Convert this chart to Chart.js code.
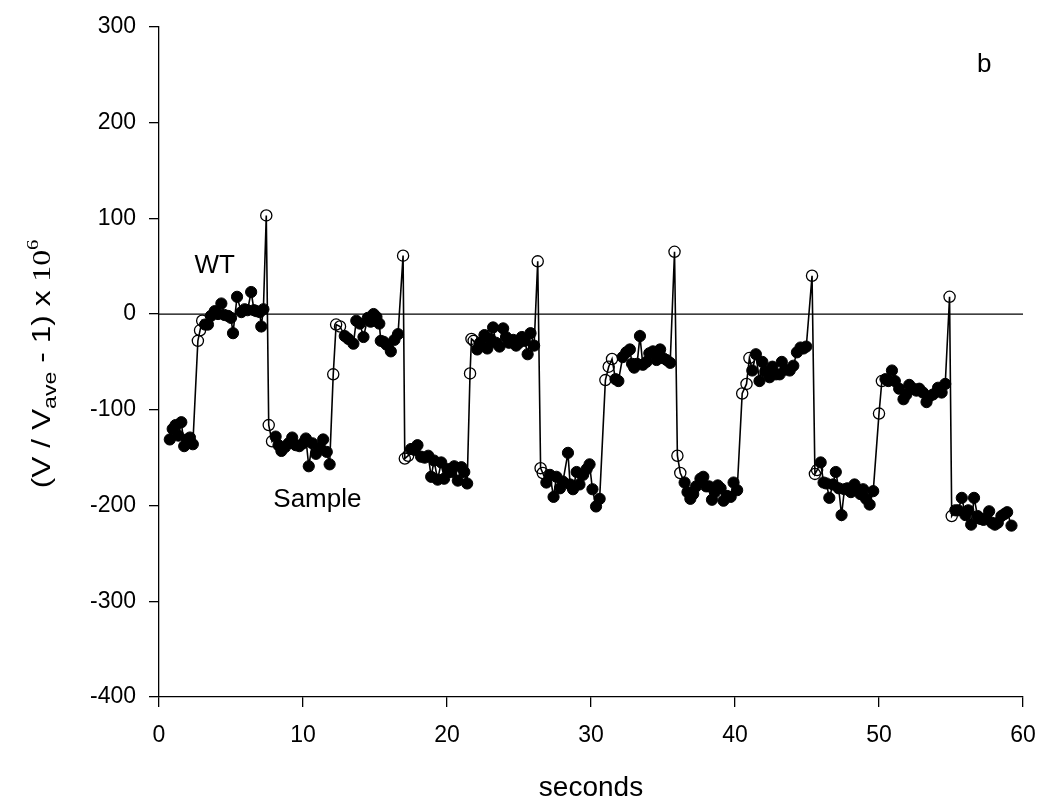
<!DOCTYPE html>
<html>
<head>
<meta charset="utf-8">
<script src="https://cdn.jsdelivr.net/npm/chart.js@4/dist/chart.umd.min.js"></script>
<style>
  body { margin: 0; background: #fff; }
  canvas { display: block; }
</style>
</head>
<body>
<canvas id="chart" width="1039" height="805" style="width:1039px;height:805px"></canvas>
<script>
// filled circles: steady readings (WT and sample plateaus)
const filledSeconds = [
  0.75, 0.95, 1.15, 1.35, 1.55, 1.75, 1.95, 2.15, 2.35,
  3.2, 3.4, 3.6, 3.87, 4.1, 4.33, 4.55, 4.8, 5.0, 5.14, 5.42, 5.72, 5.95, 6.15, 6.4, 6.6, 6.76, 7.0, 7.1, 7.25,
  8.1, 8.3, 8.5, 8.75, 9.0, 9.25, 9.5, 9.75, 10.0, 10.2, 10.4, 10.65, 10.9, 11.15, 11.4, 11.65, 11.85,
  12.9, 13.15, 13.5, 13.7, 13.95, 14.2, 14.5, 14.7, 14.9, 15.1, 15.3, 15.4, 15.6, 15.8, 16.1, 16.35, 16.6,
  17.5, 17.75, 17.95, 18.2, 18.45, 18.7, 18.9, 19.1, 19.35, 19.6, 19.8, 20.05, 20.3, 20.5, 20.75, 21.0, 21.2, 21.4,
  22.1, 22.3, 22.6, 22.8, 23.0, 23.2, 23.4, 23.65, 23.9, 24.1, 24.3, 24.6, 24.8, 25.0, 25.2, 25.4, 25.6, 25.8, 26.05,
  26.9, 27.15, 27.4, 27.6, 27.85, 28.05, 28.4, 28.55, 28.75, 29.0, 29.2, 29.45, 29.7, 29.9, 30.1, 30.35, 30.6,
  31.7, 31.9, 32.2, 32.45, 32.7, 32.85, 33.0, 33.2, 33.4, 33.6, 33.85, 34.05, 34.3, 34.55, 34.8, 35.0, 35.25, 35.5,
  36.5, 36.7, 36.9, 37.1, 37.3, 37.6, 37.8, 38.0, 38.2, 38.4, 38.6, 38.8, 39.0, 39.2, 39.45, 39.7, 39.9, 40.15,
  41.2, 41.45, 41.7, 41.9, 42.1, 42.4, 42.6, 42.85, 43.1, 43.25, 43.5, 43.8, 44.05, 44.3, 44.55, 44.75, 44.95,
  45.95, 46.15, 46.35, 46.55, 46.8, 47.0, 47.2, 47.4, 47.6, 47.8, 48.05, 48.3, 48.5, 48.7, 48.9, 49.1, 49.35, 49.6,
  50.45, 50.65, 50.9, 51.1, 51.4, 51.7, 51.9, 52.1, 52.4, 52.6, 52.8, 53.05, 53.3, 53.5, 53.75, 54.1, 54.35, 54.6,
  55.3, 55.5, 55.75, 56.0, 56.2, 56.4, 56.6, 56.85, 57.05, 57.25, 57.45, 57.65, 57.85, 58.05, 58.25, 58.5, 58.7, 58.9, 59.2
];
const filledValues = [
  -131, -120, -116, -127, -113, -138, -131, -129, -136,
  -11, -11, -2, 3, 0, 11, -1, -2, -4, -20, 18, 2, 5, 4, 23, 4, 3, 2, -13, 5,
  -128, -137, -143, -139, -135, -129, -137, -138, -135, -130, -159, -135, -146, -140, -131, -144, -157,
  -23, -26, -31, -7, -10, -24, -4, -8, 0, -3, -10, -28, -29, -32, -39, -27, -21,
  -141, -142, -137, -149, -150, -148, -170, -153, -173, -155, -172, -162, -165, -159, -174, -160, -165, -177,
  -37, -30, -22, -36, -26, -14, -30, -34, -15, -24, -30, -27, -33, -30, -24, -28, -42, -20, -33,
  -176, -168, -191, -170, -182, -175, -145, -178, -183, -165, -178, -168, -162, -157, -183, -201, -193,
  -68, -70, -45, -40, -37, -52, -56, -52, -23, -53, -50, -41, -39, -48, -37, -46, -48, -51,
  -176, -186, -193, -188, -180, -172, -170, -180, -180, -194, -186, -179, -182, -195, -190, -191, -176, -184,
  -59, -42, -70, -50, -60, -66, -55, -63, -63, -50, -58, -59, -54, -40, -35, -36, -34,
  -155, -176, -177, -192, -178, -165, -182, -210, -183, -182, -186, -178, -183, -188, -183, -193, -199, -185,
  -68, -70, -59, -70, -78, -89, -84, -74, -78, -80, -78, -82, -92, -86, -84, -77, -82, -73,
  -205, -205, -192, -210, -205, -220, -192, -211, -214, -215, -213, -206, -218, -220, -218, -211, -209, -207, -221
];

// open circles: switching transients and spikes
const openSeconds = [
  2.7, 2.85, 3.0, 7.45, 7.62, 7.85,
  12.1, 12.3, 12.57, 16.95, 17.07, 17.3,
  21.6, 21.7, 21.85, 26.3, 26.5, 26.65,
  31.0, 31.23, 31.46, 35.8, 36.0, 36.2,
  40.5, 40.8, 41.0, 45.35, 45.55, 45.7,
  50.0, 50.2, 54.9, 55.05
];
const openValues = [
  -28, -17, -7, 103, -116, -133,
  -63, -11, -13, 61, -151, -148,
  -62, -26, -28, 55, -161, -166,
  -69, -55, -47, 65, -148, -166,
  -83, -73, -46, 40, -167, -163,
  -104, -70, 18, -211
];

const xTicks = [0, 10, 20, 30, 40, 50, 60];
const yTicks = [-400, -300, -200, -100, 0, 100, 200, 300];
const zeroLine = [0, 60];

// text labels placed in data units
const noteText = ['WT', 'Sample', 'b'];
const noteSeconds = [3.87, 11.0, 57.3];
const noteValues = [50, -194, 260];

const fontFamily = "'Liberation Sans', Arial, Helvetica, sans-serif";

// the line joins every reading in time order
const filledPts = filledSeconds.map((t, i) => ({ x: t, y: filledValues[i] }));
const openPts = openSeconds.map((t, i) => ({ x: t, y: openValues[i] }));
const tracePts = filledPts.concat(openPts).sort((a, b) => a.x - b.x);

const textPlugin = {
  id: 'texts',
  afterDraw(chart) {
    const ctx = chart.ctx;
    const xs = chart.scales.x, ys = chart.scales.y;
    ctx.save();
    ctx.fillStyle = '#000';
    ctx.textAlign = 'center';
    ctx.textBaseline = 'middle';
    ctx.font = '26px ' + fontFamily;
    noteText.forEach((txt, i) => {
      ctx.fillText(txt, xs.getPixelForValue(noteSeconds[i]), ys.getPixelForValue(noteValues[i]));
    });

    // y axis title with subscript and superscript, stretched along its length like the original
    const parts = [
      { t: '(V / V', f: '26px ' + fontFamily, dy: 0 },
      { t: 'ave', f: '19px ' + fontFamily, dy: 6 },
      { t: ' - 1) x ', f: '26px ' + fontFamily, dy: 0 },
      { t: '10', f: "26px 'Liberation Serif', 'Times New Roman', serif", dy: 0 },
      { t: '6', f: "17px 'Liberation Serif', 'Times New Roman', serif", dy: -12 }
    ];
    let total = 0;
    parts.forEach(p => { ctx.font = p.f; p.w = ctx.measureText(p.t).width; total += p.w; });
    ctx.translate(40, (ys.top + ys.bottom) / 2 + 2);
    ctx.rotate(-Math.PI / 2);
    ctx.scale(1.22, 1);
    ctx.textAlign = 'left';
    ctx.textBaseline = 'alphabetic';
    let x = -total / 2;
    parts.forEach(p => {
      ctx.font = p.f;
      ctx.fillText(p.t, x, 10 + p.dy);
      x += p.w;
    });
    ctx.restore();
  }
};

new Chart(document.getElementById('chart').getContext('2d'), {
  type: 'scatter',
  data: {
    datasets: [
      {
        label: 'zero',
        data: zeroLine.map(t => ({ x: t, y: 0 })),
        showLine: true,
        borderColor: '#000',
        borderWidth: 1.3,
        pointRadius: 0
      },
      {
        label: 'trace',
        data: tracePts,
        showLine: true,
        borderColor: '#000',
        borderWidth: 1.6,
        pointRadius: 0
      },
      {
        label: 'filled',
        data: filledPts,
        pointRadius: 5.6,
        pointBackgroundColor: '#000',
        pointBorderColor: '#000',
        pointBorderWidth: 1
      },
      {
        label: 'open',
        data: openPts,
        pointRadius: 5.6,
        pointBackgroundColor: 'rgba(0,0,0,0)',
        pointBorderColor: '#000',
        pointBorderWidth: 1.3
      }
    ]
  },
  options: {
    responsive: false,
    animation: false,
    devicePixelRatio: 1,
    layout: { padding: { left: 0, top: 25, right: 16, bottom: 0 } },
    plugins: {
      legend: { display: false },
      tooltip: { enabled: false }
    },
    scales: {
      x: {
        type: 'linear',
        min: 0,
        max: 60,
        afterBuildTicks: s => { s.ticks = xTicks.map(v => ({ value: v })); },
        // fixed height; drop the label overhang so the axis runs to x = 60 at the same place as the original
        afterFit: s => { s.height = 108; s.paddingRight = 0; s.paddingLeft = 0; },
        border: { display: true, color: '#000', width: 1.3 },
        grid: { display: true, drawOnChartArea: false, color: '#000', lineWidth: 1.3, tickLength: 10 },
        ticks: { color: '#000', font: { family: fontFamily, size: 23 }, padding: 15, maxRotation: 0 },
        title: { display: true, text: 'seconds', color: '#000', font: { family: fontFamily, size: 28 }, padding: { top: 0, bottom: 0 } }
      },
      y: {
        type: 'linear',
        min: -400,
        max: 300,
        afterBuildTicks: s => { s.ticks = yTicks.map(v => ({ value: v })); },
        afterFit: s => { s.width = 159; },
        border: { display: true, color: '#000', width: 1.3 },
        grid: { display: true, drawOnChartArea: false, color: '#000', lineWidth: 1.3, tickLength: 10 },
        ticks: { color: '#000', font: { family: fontFamily, size: 23 }, padding: 13 }
      }
    }
  },
  plugins: [textPlugin]
});
</script>
</body>
</html>
